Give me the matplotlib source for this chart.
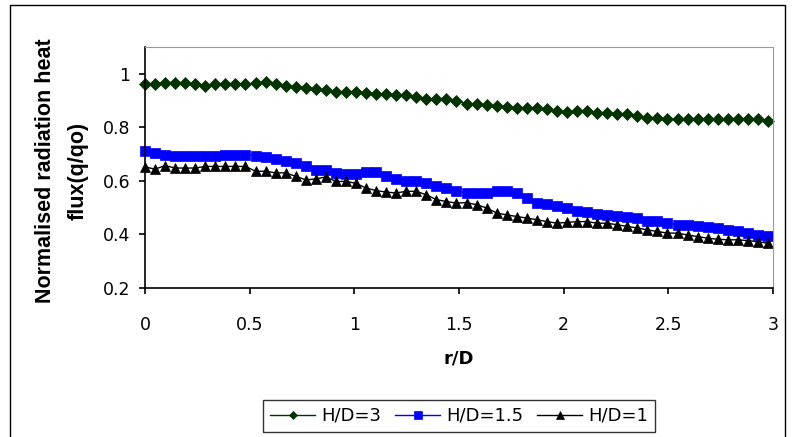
import matplotlib.pyplot as plt
import numpy as np
from matplotlib.patches import Rectangle

plt.rcParams['font.family'] = ['DejaVu Sans']

# r/D positions (63 points, spacing ~0.048)
r_d = np.round(np.arange(63) * 0.048, 3)

# H/D = 3
hd3 = [0.960, 0.960, 0.967, 0.967, 0.964, 0.960, 0.954, 0.960, 0.960, 0.960,
       0.960, 0.964, 0.969, 0.960, 0.954, 0.952, 0.948, 0.942, 0.939, 0.933,
       0.933, 0.933, 0.929, 0.923, 0.923, 0.919, 0.919, 0.913, 0.907, 0.904,
       0.907, 0.898, 0.888, 0.888, 0.882, 0.879, 0.875, 0.873, 0.873, 0.873,
       0.867, 0.860, 0.857, 0.860, 0.862, 0.855, 0.855, 0.850, 0.850, 0.842,
       0.836, 0.834, 0.832, 0.832, 0.832, 0.832, 0.832, 0.832, 0.832, 0.832,
       0.832, 0.830, 0.825]

# H/D = 1.5
hd15 = [0.710, 0.704, 0.698, 0.694, 0.694, 0.694, 0.694, 0.694, 0.698, 0.698,
        0.698, 0.694, 0.689, 0.682, 0.673, 0.667, 0.654, 0.642, 0.642, 0.630,
        0.626, 0.626, 0.632, 0.632, 0.619, 0.606, 0.598, 0.598, 0.592, 0.582,
        0.573, 0.561, 0.555, 0.555, 0.555, 0.561, 0.561, 0.555, 0.536, 0.517,
        0.514, 0.505, 0.499, 0.486, 0.482, 0.477, 0.473, 0.470, 0.465, 0.461,
        0.452, 0.449, 0.442, 0.436, 0.436, 0.432, 0.427, 0.424, 0.417, 0.411,
        0.405, 0.398, 0.396]

# H/D = 1
hd1 = [0.652, 0.644, 0.657, 0.648, 0.648, 0.648, 0.654, 0.654, 0.654, 0.654,
       0.654, 0.636, 0.636, 0.630, 0.630, 0.617, 0.604, 0.607, 0.615, 0.598,
       0.598, 0.591, 0.573, 0.564, 0.558, 0.555, 0.561, 0.561, 0.548, 0.530,
       0.523, 0.517, 0.519, 0.511, 0.499, 0.480, 0.473, 0.467, 0.461, 0.455,
       0.448, 0.442, 0.445, 0.448, 0.448, 0.442, 0.442, 0.436, 0.430, 0.424,
       0.417, 0.411, 0.405, 0.405, 0.398, 0.392, 0.386, 0.382, 0.380, 0.380,
       0.377, 0.373, 0.367]

x_ticks = [0, 0.5, 1, 1.5, 2, 2.5, 3]
x_tick_labels = ['0', '0.5', '1', '1.5', '2', '2.5', '3']
y_ticks = [0.2, 0.4, 0.6, 0.8, 1.0]
y_tick_labels = ['0.2', '0.4', '0.6', '0.8', '1']

fig = plt.figure(figsize=(7.95, 4.37), dpi=100)
ax = fig.add_axes([145 / 795, 1 - 288 / 437, (773 - 145) / 795, (288 - 47) / 437])

ax.plot(r_d, hd3, color='#003300', marker='D', markersize=5.8, linewidth=1,
        markeredgewidth=0.5, label='H/D=3', clip_on=False)
ax.plot(r_d, hd15, color='#0000FF', marker='s', markersize=7.4, linewidth=1,
        markeredgewidth=0.5, label='H/D=1.5', clip_on=False)
ax.plot(r_d, hd1, color='black', marker='^', markersize=7.8, linewidth=1,
        markeredgewidth=0.5, label='H/D=1', clip_on=False)

ax.set_xlim(0, 3)
ax.set_ylim(0.2, 1.1)
ax.set_xticks(x_ticks)
ax.set_xticklabels(x_tick_labels)
ax.set_yticks(y_ticks)
ax.set_yticklabels(y_tick_labels)
ax.tick_params(axis='both', direction='out', length=4.5, width=1.2, labelsize=12.5, colors='black')
ax.tick_params(axis='y', pad=6)
ax.tick_params(axis='x', pad=16)

ax.spines['left'].set_linewidth(1.2)
ax.spines['bottom'].set_linewidth(1.2)
ax.spines['top'].set_color('#999999')
ax.spines['right'].set_color('#999999')

ax.set_xlabel('r/D', fontsize=13, fontweight='bold', labelpad=11)

fig.text(62 / 795, 1 - 171 / 437, 'Normalised radiation heat\nflux(q/qo)',
         family='Liberation Sans', fontsize=15.5, fontweight='bold',
         rotation=90, ha='center', va='center', multialignment='center',
         linespacing=1.7)

leg = fig.legend(loc='center', bbox_to_anchor=(459 / 795, 1 - 416 / 437), ncol=3,
                 fontsize=13, frameon=True, fancybox=False, edgecolor='black',
                 markerscale=0.75, handlelength=2.5, columnspacing=0.8,
                 handletextpad=0.3, borderpad=0.4)
leg.get_frame().set_linewidth(1)

# outer chart border
fig.patches.append(Rectangle((10 / 795, -0.05), 775 / 795, 1 - 5 / 437 + 0.05,
                             transform=fig.transFigure, fill=False,
                             edgecolor='black', linewidth=1))

fig.savefig('out.png', dpi=100)
